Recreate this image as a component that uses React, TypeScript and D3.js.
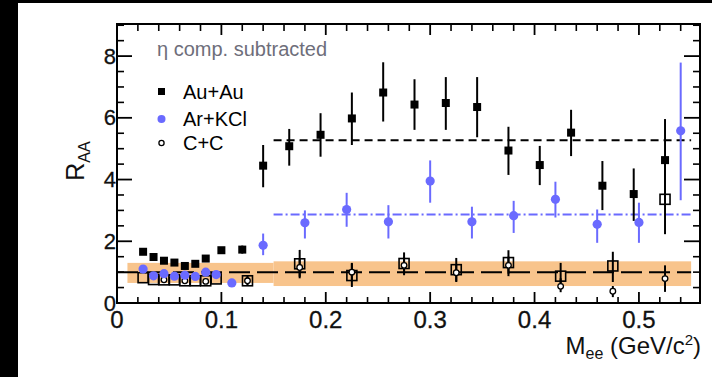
import React from 'react';
import * as d3 from 'd3';

// Au+Au (filled squares)
const auX = [0.025, 0.035, 0.045, 0.055, 0.065, 0.075, 0.085, 0.1, 0.12, 0.14, 0.165, 0.195, 0.225, 0.255, 0.285, 0.315, 0.345, 0.375, 0.405, 0.435, 0.465, 0.495, 0.525];
const auY = [1.66, 1.49, 1.37, 1.31, 1.2, 1.27, 1.44, 1.71, 1.73, 4.45, 5.08, 5.45, 5.98, 6.82, 6.43, 6.48, 6.35, 4.94, 4.47, 5.52, 3.8, 3.53, 4.63];
const auLo = [1.66, 1.49, 1.37, 1.31, 1.2, 1.27, 1.44, 1.71, 1.6, 3.75, 4.45, 4.74, 5.12, 5.88, 5.61, 5.61, 5.37, 4.15, 3.82, 4.76, 3.01, 2.66, 3.3];
const auHi = [1.66, 1.49, 1.37, 1.31, 1.2, 1.27, 1.44, 1.71, 1.86, 5.12, 5.64, 6.15, 6.82, 7.8, 7.25, 7.32, 7.32, 5.71, 5.09, 6.26, 4.6, 4.36, 5.96];

// Ar+KCl (blue circles)
const arX = [0.025, 0.035, 0.045, 0.055, 0.065, 0.075, 0.085, 0.095, 0.11, 0.14, 0.18, 0.22, 0.26, 0.3, 0.34, 0.38, 0.42, 0.46, 0.5, 0.54];
const arY = [1.1, 0.88, 0.95, 0.87, 0.9, 0.86, 1.0, 0.92, 0.65, 1.87, 2.6, 3.03, 2.63, 3.95, 2.63, 2.83, 3.36, 2.55, 2.61, 5.58];
const arLo = [1.1, 0.88, 0.95, 0.87, 0.9, 0.86, 1.0, 0.92, 0.65, 1.55, 2.09, 2.47, 2.09, 3.25, 2.09, 2.27, 2.77, 1.95, 1.95, 3.33];
const arHi = [1.1, 0.88, 0.95, 0.87, 0.9, 0.86, 1.0, 0.92, 0.65, 2.25, 3.0, 3.57, 3.17, 4.62, 3.12, 3.31, 3.93, 3.03, 3.25, 7.79];

// open squares
const sqX = [0.025, 0.035, 0.045, 0.055, 0.065, 0.075, 0.085, 0.095, 0.125, 0.175, 0.225, 0.275, 0.325, 0.375, 0.425, 0.475, 0.525];
const sqY = [0.82, 0.76, 0.75, 0.75, 0.72, 0.72, 0.72, 0.78, 0.72, 1.27, 0.89, 1.28, 1.08, 1.31, 0.87, 1.2, 3.36];
const sqLo = [0.82, 0.76, 0.75, 0.75, 0.72, 0.72, 0.72, 0.78, 0.57, 0.8, 0.52, 0.9, 0.68, 0.87, 0.5, 0.68, 2.23];
const sqHi = [0.82, 0.76, 0.75, 0.75, 0.72, 0.72, 0.72, 0.78, 0.88, 1.72, 1.28, 1.64, 1.46, 1.71, 1.3, 1.66, 4.5];

// C+C (small open circles)
const ccX = [0.045, 0.065, 0.085, 0.125, 0.175, 0.225, 0.275, 0.325, 0.375, 0.425, 0.475, 0.525];
const ccY = [0.75, 0.72, 0.7, 0.72, 1.15, 1.0, 1.22, 0.98, 1.22, 0.54, 0.38, 0.79];
const ccLo = [0.75, 0.72, 0.7, 0.6, 0.85, 0.7, 0.95, 0.7, 0.95, 0.35, 0.19, 0.36];
const ccHi = [0.75, 0.72, 0.7, 0.85, 1.45, 1.3, 1.5, 1.25, 1.5, 0.8, 0.55, 1.22];

// reference levels and systematic band
const auMean = 5.27;
const arMean = 2.87;
const unityLevel = 1;
const bandX0 = [0.01, 0.15];
const bandX1 = [0.15, 0.55];
const bandLo = [0.65, 0.55];
const bandHi = [1.3, 1.35];

const xMajor = [0, 0.1, 0.2, 0.3, 0.4, 0.5];
const xLabels = ['0', '0.1', '0.2', '0.3', '0.4', '0.5'];
const yMajor = [0, 2, 4, 6, 8];
const yLabels = ['0', '2', '4', '6', '8'];

const BLUE = '#6a6aff';
const BAND = '#f8c48c';
const FONT = '"Liberation Sans", Arial, Helvetica, sans-serif';

const App: React.FC = () => {
  const width = 712;
  const height = 377;
  const left = 117, right = 700, top = 24, bottom = 303;

  const x = d3.scaleLinear().domain([0, 0.5585]).range([left, right]);
  const y = d3.scaleLinear().domain([0, 9.04]).range([bottom, top]);

  const xMinor = d3.range(0, 0.555, 0.02).map(v => +v.toFixed(2)).filter(v => !xMajor.some(m => Math.abs(m - v) < 1e-6));
  const yMinor = d3.range(0, 9.01, 0.5).filter(v => v % 2 !== 0);

  const errBar = (xs: number[], lo: number[], hi: number[], color: string, key: string) =>
    xs.map((xv, i) => hi[i] - lo[i] > 0.01 ? (
      <line key={key + i} x1={x(xv)} x2={x(xv)} y1={y(lo[i])} y2={y(hi[i])} stroke={color} strokeWidth={2} />
    ) : null);

  return (
    <svg width={width} height={height} style={{ position: 'absolute', left: 0, top: 0, background: '#fff' }} fontFamily={FONT}>
      <rect x={0} y={0} width={width} height={height} fill="#fff" />
      <rect x={0} y={0} width={18} height={height} fill="#000" />
      <rect x={0} y={0} width={width} height={3} fill="#000" />

      {/* systematic band */}
      {[0, 1].map(i => (
        <rect key={'band' + i}
          x={x(i === 0 ? bandX0[0] : bandX1[0])}
          width={x(i === 0 ? bandX0[1] : bandX1[1]) - x(i === 0 ? bandX0[0] : bandX1[0])}
          y={y(bandHi[i])} height={y(bandLo[i]) - y(bandHi[i])} fill={BAND} />
      ))}

      {/* reference lines */}
      <line x1={x(0)} x2={x(0.55)} y1={y(unityLevel)} y2={y(unityLevel)} stroke="#000" strokeWidth={2} strokeDasharray="21,7" />
      <line x1={x(0.15)} x2={x(0.55)} y1={y(auMean)} y2={y(auMean)} stroke="#000" strokeWidth={2} strokeDasharray="8,5" />
      <line x1={x(0.15)} x2={x(0.55)} y1={y(arMean)} y2={y(arMean)} stroke={BLUE} strokeWidth={2} strokeDasharray="9,3,2,3" />

      {/* error bars */}
      {errBar(sqX, sqLo, sqHi, '#000', 'se')}
      {errBar(ccX, ccLo, ccHi, '#000', 'ce')}
      {errBar(arX, arLo, arHi, BLUE, 'ae')}
      {errBar(auX, auLo, auHi, '#000', 'ue')}

      {/* markers */}
      {sqX.map((xv, i) => (
        <rect key={'sq' + i} x={x(xv) - 5} y={y(sqY[i]) - 5} width={10} height={10} fill="none" stroke="#000" strokeWidth={1.6} />
      ))}
      {ccX.map((xv, i) => (
        <circle key={'cc' + i} cx={x(xv)} cy={y(ccY[i])} r={2.8} fill="#fff" stroke="#000" strokeWidth={1.3} />
      ))}
      {arX.map((xv, i) => (
        <circle key={'ar' + i} cx={x(xv)} cy={y(arY[i])} r={4.6} fill={BLUE} />
      ))}
      {auX.map((xv, i) => (
        <rect key={'au' + i} x={x(xv) - 4} y={y(auY[i]) - 4} width={8} height={8} fill="#000" />
      ))}

      {/* frame and ticks */}
      <rect x={left} y={top} width={right - left} height={bottom - top} fill="none" stroke="#000" strokeWidth={2} />
      {xMajor.map(v => (
        <g key={'xM' + v}>
          <line x1={x(v)} x2={x(v)} y1={bottom} y2={bottom - 11} stroke="#000" strokeWidth={1.8} />
          <line x1={x(v)} x2={x(v)} y1={top} y2={top + 11} stroke="#000" strokeWidth={1.8} />
        </g>
      ))}
      {xMinor.map(v => (
        <g key={'xm' + v}>
          <line x1={x(v)} x2={x(v)} y1={bottom} y2={bottom - 6} stroke="#000" strokeWidth={1.6} />
          <line x1={x(v)} x2={x(v)} y1={top} y2={top + 7} stroke="#000" strokeWidth={1.6} />
        </g>
      ))}
      {yMajor.map(v => (
        <g key={'yM' + v}>
          <line x1={left} x2={left + 15} y1={y(v)} y2={y(v)} stroke="#000" strokeWidth={1.8} />
          <line x1={right} x2={right - 16} y1={y(v)} y2={y(v)} stroke="#000" strokeWidth={1.8} />
        </g>
      ))}
      {yMinor.map(v => (
        <g key={'ym' + v}>
          <line x1={left} x2={left + 7} y1={y(v)} y2={y(v)} stroke="#000" strokeWidth={1.6} />
          <line x1={right} x2={right - 7} y1={y(v)} y2={y(v)} stroke="#000" strokeWidth={1.6} />
        </g>
      ))}

      {/* tick labels */}
      {xMajor.map((v, i) => (
        <text key={'xl' + v} x={x(v)} y={328} textAnchor="middle" fontSize={24} fill="#111" stroke="#111" strokeWidth={0.3}>{xLabels[i]}</text>
      ))}
      {yMajor.map((v, i) => (
        <text key={'yl' + v} x={116} y={y(v) + 7.5} textAnchor="end" fontSize={22} fill="#111" stroke="#111" strokeWidth={0.3}>{yLabels[i]}</text>
      ))}

      {/* axis titles */}
      <text transform={`translate(84,${y(4.6)}) rotate(-90)`} textAnchor="middle" fontSize={25} fill="#111">
        R<tspan fontSize={16} dy={6}>AA</tspan>
      </text>
      <text x={701} y={354} textAnchor="end" fontSize={24} fill="#111">
        M<tspan fontSize={16} dy={5}>ee</tspan><tspan dy={-5}> (GeV/c</tspan><tspan fontSize={15} dy={-9}>2</tspan><tspan dy={9}>)</tspan>
      </text>

      {/* legend */}
      <text x={157} y={56} fontSize={20} fill="#6e6e7a">η comp. subtracted</text>
      <rect x={158} y={88} width={7} height={7} fill="#000" />
      <text x={183} y={99} fontSize={20} fill="#000">Au+Au</text>
      <circle cx={161.5} cy={119} r={4} fill={BLUE} />
      <text x={183} y={126} fontSize={20} fill="#000">Ar+KCl</text>
      <circle cx={161.5} cy={143} r={2.6} fill="#fff" stroke="#000" strokeWidth={1.3} />
      <text x={183} y={150} fontSize={20} fill="#000">C+C</text>
    </svg>
  );
};

export default App;
